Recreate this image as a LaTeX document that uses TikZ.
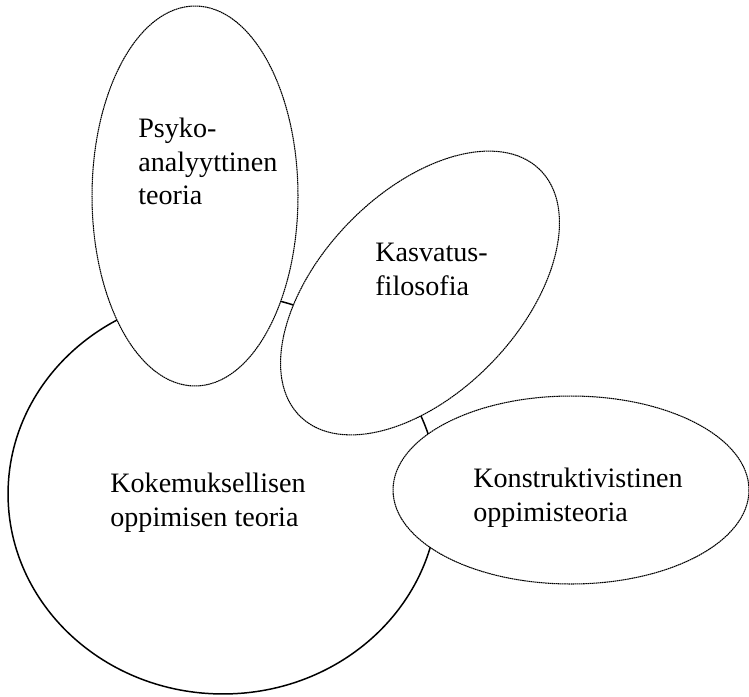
\documentclass[tikz,border=0pt]{standalone}
\usepackage{fontspec}
\setmainfont{Liberation Serif}
\usetikzlibrary{shapes.geometric,positioning}

\tikzset{
    theory/.style={ellipse, draw, fill=white, inner sep=0pt, outer sep=0pt,
        line width=0.6pt, dash pattern=on 0.9pt off 0.3pt},
    core/.style={ellipse, draw, inner sep=0pt, outer sep=0pt, line width=0.85pt},
    thtext/.style={align=left, anchor=north west, inner sep=0pt, font=\fontsize{16}{19}\selectfont}
}

\begin{document}
\begin{tikzpicture}[x=0.02cm, y=-0.02cm]
    \useasboundingbox (0,0) rectangle (749,696);

    % big circle first, the ellipses cover it
    \node[core, minimum width=8.6cm, minimum height=8cm] (kok) at (223,494) {};

    \node[theory, minimum width=7.12cm, minimum height=3.76cm] (kon) at (571,490) {};
    \node[theory, minimum width=6.88cm, minimum height=4cm, rotate=46] (kas) at (420,293) {};
    \node[theory, minimum width=4.12cm, minimum height=7.6cm] (psy) at (195,196) {};

    % texts
    \node[thtext] (tpsy) at (138,118) {Psyko-\\analyyttinen\\teoria};
    \node[thtext] (tkas) at (375,243) {Kasvatus-\\filosofia};
    \node[thtext] (tkok) at (110,473) {Kokemuksellisen\\oppimisen teoria};
    \node[thtext] (tkon) at (473,468) {Konstruktivistinen\\oppimisteoria};
\end{tikzpicture}
\end{document}
